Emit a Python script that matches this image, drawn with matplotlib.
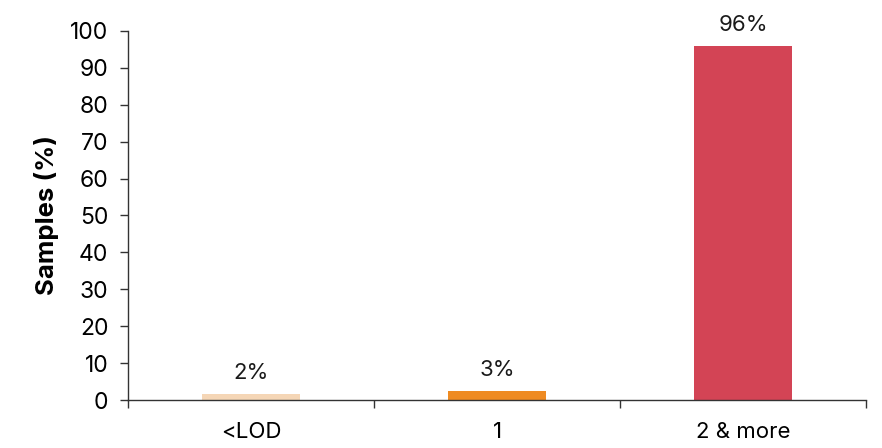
import numpy as np
from matplotlib import pyplot as plt

categories = ["<LOD", "1", "2 & more"]
values = [1.6, 2.5, 95.9]
labels = ["2%", "3%", "96%"]
colors = ["#F5D6B6", "#EF8B22", "#D34455"]

plt.rcParams['font.family'] = ['Inter', 'DejaVu Sans']

fig = plt.figure(figsize=(8.82, 4.48), dpi=100)
ax = fig.add_axes([0.145, 0.107, 0.837, 0.824])

x = np.arange(len(categories)) + 0.5
bars = ax.bar(x, values, width=0.4, color=colors)

for b, lab in zip(bars, labels):
    ax.annotate(lab, (b.get_x() + b.get_width() / 2, b.get_height()),
                xytext=(0, 8), textcoords="offset points",
                ha="center", va="bottom", fontsize=16, color="#1a1a1a")

ax.set_xlim(0, len(categories))
ax.set_ylim(0, 100)
ax.set_yticks(np.arange(0, 101, 10))
ax.set_xticks(np.arange(len(categories) + 1))
ax.set_xticklabels([])
ax.set_xticks(x, minor=True)
ax.set_xticklabels(categories, minor=True)
ax.tick_params(axis="x", which="minor", length=0, pad=16, labelsize=16)
ax.tick_params(axis="x", which="major", length=6, width=1, color="#333333")
ax.tick_params(axis="y", length=6, width=1, color="#333333", labelsize=16.5, pad=8)

for s in ["top", "right"]:
    ax.spines[s].set_visible(False)
for s in ["left", "bottom"]:
    ax.spines[s].set_color("#333333")
    ax.spines[s].set_linewidth(1)

ax.set_ylabel("Samples (%)", fontsize=18.5, fontweight="bold", labelpad=8)

plt.savefig("out.png", dpi=100)
